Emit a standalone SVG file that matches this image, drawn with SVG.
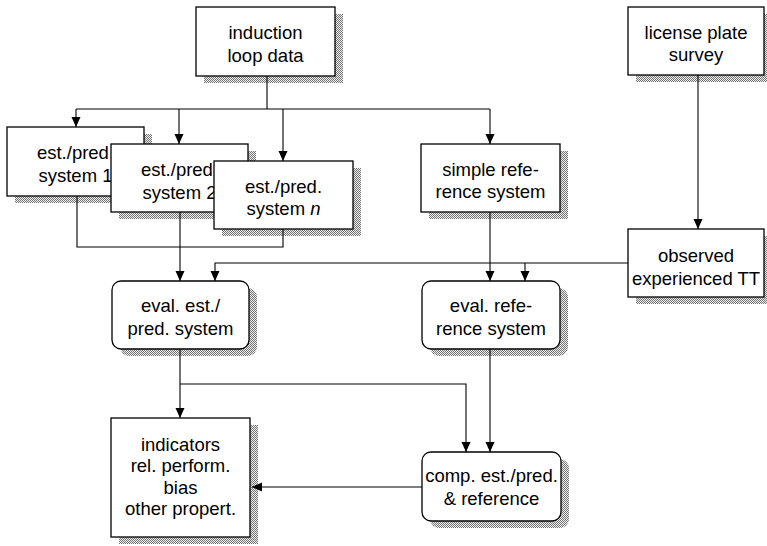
<svg xmlns="http://www.w3.org/2000/svg" width="767" height="546" viewBox="0 0 767 546">
<style>
.box{fill:#fff;stroke:#000;stroke-width:1.3}
.sh{fill:url(#dots)}
.t{font-family:"Liberation Sans",Arial,sans-serif;font-size:18.5px;text-anchor:middle;fill:#000}
.c{fill:none;stroke:#000;stroke-width:1.1}
.a{marker-end:url(#ah)}
</style>
<defs>
<pattern id="dots" width="2" height="2" patternUnits="userSpaceOnUse">
<rect width="2" height="2" fill="#ececec"/>
<rect width="1" height="1" fill="#777"/>
<rect x="1" y="1" width="1" height="1" fill="#777"/>
</pattern>
<marker id="ah" markerUnits="userSpaceOnUse" markerWidth="10" markerHeight="10" refX="10" refY="4.5" orient="auto">
<path d="M0,0 L10,4.5 L0,9 z" fill="#000"/>
</marker>
</defs>
<rect width="767" height="546" fill="#fff"/>

<g id="induction">
<rect class="sh" x="204" y="14" width="139" height="69"/>
<rect class="box" x="196" y="7" width="139" height="69"/>
<text class="t" x="265.5" y="39">induction</text>
<text class="t" x="265.5" y="62">loop data</text>
</g>

<g id="license">
<rect class="sh" x="636" y="14" width="136" height="68"/>
<rect class="box" x="628" y="7" width="136" height="68"/>
<text class="t" x="696" y="39">license plate</text>
<text class="t" x="696" y="61">survey</text>
</g>

<g id="sys1">
<rect class="sh" x="15" y="134" width="137" height="69"/>
<rect class="box" x="7" y="127" width="137" height="69"/>
<text class="t" x="75.5" y="159">est./pred.</text>
<text class="t" x="75.5" y="182">system 1</text>
</g>

<g id="sys2">
<rect class="sh" x="119" y="151" width="137" height="68"/>
<rect class="box" x="111" y="144" width="137" height="68"/>
<text class="t" x="179.5" y="176">est./pred.</text>
<text class="t" x="179.5" y="199">system 2</text>
</g>

<g id="sysn">
<rect class="sh" x="222" y="168" width="139" height="68"/>
<rect class="box" x="214" y="161" width="139" height="68"/>
<text class="t" x="283.5" y="193">est./pred.</text>
<text class="t" x="283.5" y="215">system <tspan font-style="italic">n</tspan></text>
</g>

<g id="simpleref">
<rect class="sh" x="429" y="151" width="139" height="68"/>
<rect class="box" x="421" y="144" width="139" height="68"/>
<text class="t" x="490.5" y="176">simple refe-</text>
<text class="t" x="490.5" y="198">rence system</text>
</g>

<g id="observed">
<rect class="sh" x="636" y="236" width="136" height="68"/>
<rect class="box" x="628" y="229" width="136" height="68"/>
<text class="t" x="696" y="262">observed</text>
<text class="t" x="696" y="285">experienced TT</text>
</g>

<g id="evalest">
<rect class="sh" x="120" y="288" width="137" height="68" rx="9"/>
<rect class="box" x="112" y="281" width="137" height="68" rx="9"/>
<text class="t" x="180.5" y="312">eval. est./</text>
<text class="t" x="180.5" y="335">pred. system</text>
</g>

<g id="evalref">
<rect class="sh" x="430" y="288" width="138" height="68" rx="9"/>
<rect class="box" x="422" y="281" width="138" height="68" rx="9"/>
<text class="t" x="491" y="312">eval. refe-</text>
<text class="t" x="491" y="335">rence system</text>
</g>

<g id="indicators">
<rect class="sh" x="119" y="425" width="139" height="119"/>
<rect class="box" x="111" y="418" width="139" height="119"/>
<text class="t" x="180.5" y="451">indicators</text>
<text class="t" x="180.5" y="472">rel. perform.</text>
<text class="t" x="180.5" y="494">bias</text>
<text class="t" x="180.5" y="515">other propert.</text>
</g>

<g id="comp">
<rect class="sh" x="430" y="459" width="139" height="69" rx="9"/>
<rect class="box" x="422" y="452" width="139" height="69" rx="9"/>
<text class="t" x="491.5" y="482">comp. est./pred.</text>
<text class="t" x="491.5" y="505">&amp; reference</text>
</g>

<g id="connectors">
<path class="c" d="M267,76 V109"/>
<path class="c" d="M76,109 H490"/>
<path class="c a" d="M76,109 V127"/>
<path class="c a" d="M179,109 V144"/>
<path class="c a" d="M283,109 V161"/>
<path class="c a" d="M490,109 V144"/>
<path class="c" d="M77,196 V247 H283 V229"/>
<path class="c a" d="M180,212 V281"/>
<path class="c a" d="M628,263 H215 V281"/>
<path class="c a" d="M525,263 V281"/>
<path class="c a" d="M490,212 V281"/>
<path class="c a" d="M698,75 V229"/>
<path class="c a" d="M180,349 V418"/>
<path class="c a" d="M180,384 H466 V452"/>
<path class="c a" d="M490,349 V452"/>
<path class="c a" d="M422,487 H252"/>
</g>
</svg>
